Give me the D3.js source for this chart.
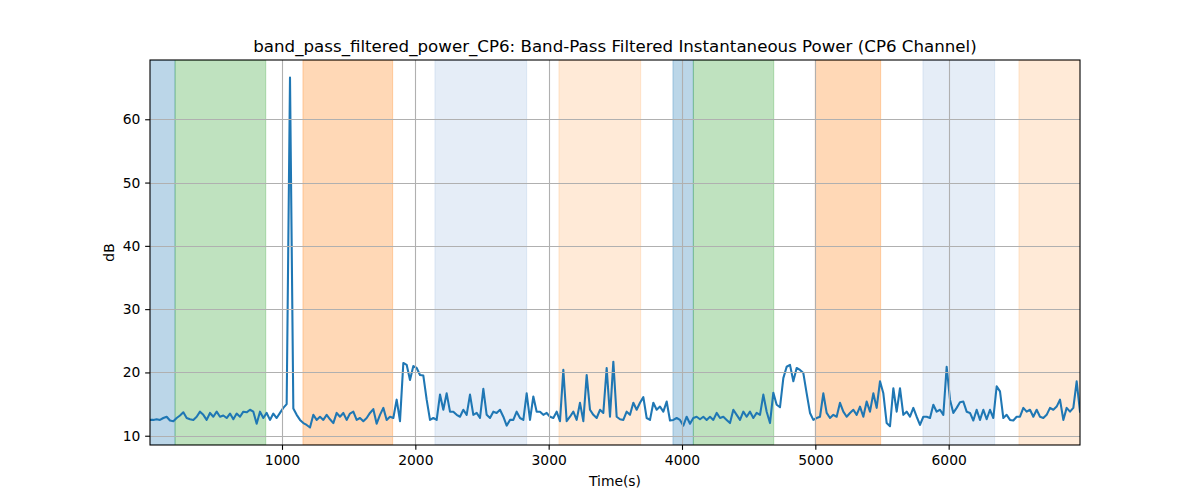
<!DOCTYPE html>
<html>
<head>
<meta charset="utf-8">
<script src="https://cdn.jsdelivr.net/npm/d3@7"></script>
<style>
  html, body { margin: 0; padding: 0; background: #fff; }
  text { font-family: "DejaVu Sans", sans-serif; }
</style>
</head>
<body>
<svg id="chart" width="1200" height="500"></svg>
<script>
const titleText = "band_pass_filtered_power_CP6: Band-Pass Filtered Instantaneous Power (CP6 Channel)";
const xLabel = "Time(s)";
const yLabel = "dB";

const times = [
  10,35,60,85,110,135,160,185,210,235,
  260,285,310,335,360,385,410,435,460,485,
  510,535,560,585,610,635,660,685,710,735,
  760,785,810,835,860,885,910,935,960,985,
  1010,1035,1060,1085,1110,1135,1160,1185,1210,1235,
  1260,1285,1310,1335,1360,1385,1410,1435,1460,1485,
  1510,1535,1560,1585,1610,1635,1660,1685,1710,1735,
  1760,1785,1810,1835,1860,1885,1910,1935,1960,1985,
  2010,2035,2060,2085,2110,2135,2160,2185,2210,2235,
  2260,2285,2310,2335,2360,2385,2410,2435,2460,2485,
  2510,2535,2560,2585,2610,2635,2660,2685,2710,2735,
  2760,2785,2810,2835,2860,2885,2910,2935,2960,2985,
  3010,3035,3060,3085,3110,3135,3160,3185,3210,3235,
  3260,3285,3310,3335,3360,3385,3410,3435,3460,3485,
  3510,3535,3560,3585,3610,3635,3660,3685,3710,3735,
  3760,3785,3810,3835,3860,3885,3910,3935,3960,3985,
  4010,4035,4060,4085,4110,4135,4160,4185,4210,4235,
  4260,4285,4310,4335,4360,4385,4410,4435,4460,4485,
  4510,4535,4560,4585,4610,4635,4660,4685,4710,4735,
  4760,4785,4810,4835,4860,4885,4910,4935,4960,4985,
  5010,5035,5060,5085,5110,5135,5160,5185,5210,5235,
  5260,5285,5310,5335,5360,5385,5410,5435,5460,5485,
  5510,5535,5560,5585,5610,5635,5660,5685,5710,5735,
  5760,5785,5810,5835,5860,5885,5910,5935,5960,5985,
  6010,6035,6060,6085,6110,6135,6160,6185,6210,6235,
  6260,6285,6310,6335,6360,6385,6410,6435,6460,6485,
  6510,6535,6560,6585,6610,6635,6660,6685,6710,6735,
  6760,6785,6810,6835,6860,6885,6910,6935,6960,6985
];

const power = [
  12.5,12.5,12.6,12.5,12.8,13.0,12.4,12.3,12.8,13.2,
  13.7,12.8,12.6,12.5,13.0,13.8,13.3,12.5,13.6,13.0,
  13.8,13.0,13.2,12.8,13.5,12.6,13.5,13.0,13.8,13.7,
  14.1,13.8,11.9,13.8,12.8,13.6,12.5,13.5,12.8,13.6,
  14.4,15.0,66.6,14.3,13.3,12.5,12.0,11.7,11.3,13.3,
  12.5,13.0,12.5,13.3,12.6,12.0,13.6,13.0,13.6,12.5,
  13.5,13.8,12.5,12.8,12.3,12.8,13.6,14.2,11.9,13.3,
  14.4,12.5,13.0,12.8,15.7,12.3,21.5,21.2,18.8,21.0,
  20.7,19.6,19.5,15.7,12.5,12.8,12.5,16.5,14.1,16.7,
  13.8,13.8,13.3,13.0,14.1,13.3,16.5,13.3,13.6,12.8,
  17.4,13.3,12.8,13.8,13.6,14.1,13.0,11.6,12.5,12.5,
  13.8,12.8,12.5,16.7,12.5,16.2,13.8,13.8,13.3,13.6,
  13.0,12.8,13.8,12.3,20.4,12.3,13.0,13.8,12.5,15.2,
  12.3,19.6,14.1,13.3,12.8,14.1,13.6,20.7,13.0,21.7,
  13.0,12.6,12.5,13.8,13.3,15.2,14.1,15.2,16.1,12.8,
  12.5,15.2,14.1,14.6,13.8,15.4,12.4,12.5,12.8,12.5,
  11.6,13.0,11.9,12.8,13.0,12.6,13.0,12.5,13.0,12.5,
  13.6,12.8,13.0,12.5,12.0,14.1,13.3,12.5,13.8,13.0,
  13.8,12.8,13.6,13.3,16.5,13.8,12.0,16.8,14.9,14.5,
  19.1,20.9,21.2,18.6,20.7,20.4,19.9,16.7,13.6,12.5,
  12.8,13.0,16.7,13.6,12.8,13.3,13.0,15.2,13.8,13.0,
  13.6,14.1,13.3,14.6,13.0,15.4,13.8,16.7,14.4,18.6,
  16.7,12.0,11.5,17.5,13.8,17.5,13.3,13.8,13.0,14.4,
  13.0,11.7,13.0,13.0,12.8,14.9,13.8,14.1,13.3,20.9,
  15.7,13.6,14.4,15.3,15.4,13.8,13.6,12.4,14.1,12.5,
  14.1,12.6,14.1,12.8,17.8,17.0,12.8,13.3,12.5,12.4,
  13.0,13.0,14.4,13.8,14.1,13.0,14.1,13.0,12.8,13.3,
  14.4,14.1,14.6,15.7,12.5,14.4,13.8,14.4,18.6,13.8
];

// shaded intervals
const spanStart = [0, 198, 1157, 2147, 3077, 3932, 4085, 5000, 5807, 6527];
const spanEnd   = [198, 878, 1830, 2835, 3690, 4085, 4688, 5490, 6345, 7000];
const spanKind  = ["blue", "green", "orange", "lightblue", "lightorange", "blue", "green", "orange", "lightblue", "lightorange"];

const xTicks = [1000, 2000, 3000, 4000, 5000, 6000];
const yTicks = [10, 20, 30, 40, 50, 60];

const spanFill = {
  blue: ["#1f77b4", 0.3],
  green: ["#2ca02c", 0.3],
  orange: ["#ff7f0e", 0.3],
  lightblue: ["#7ea3d6", 0.2],
  lightorange: ["#ff9f4a", 0.22]
};

const W = 1200, H = 500;
const L = 150, R = 1080, T = 60, B = 445;
const tickFont = "13.89px";

const svg = d3.select("#chart");

const x = d3.scaleLinear().domain(d3.extent(times)).range([L, R]);
const [ymin, ymax] = d3.extent(power);
const pad = (ymax - ymin) * 0.05;
const y = d3.scaleLinear().domain([ymin - pad, ymax + pad]).range([B, T]);

svg.append("defs").append("clipPath").attr("id", "clip")
  .append("rect").attr("x", L).attr("y", T).attr("width", R - L).attr("height", B - T);

const plot = svg.append("g").attr("clip-path", "url(#clip)");

// spans
plot.selectAll("rect.span")
  .data(spanStart.map((s, i) => ({ s, e: spanEnd[i], k: spanKind[i] })))
  .join("rect")
  .attr("class", "span")
  .attr("x", d => x(d.s))
  .attr("y", T)
  .attr("width", d => x(d.e) - x(d.s))
  .attr("height", B - T)
  .attr("fill", d => spanFill[d.k][0])
  .attr("fill-opacity", d => spanFill[d.k][1])
  .attr("stroke", d => spanFill[d.k][0])
  .attr("stroke-opacity", d => spanFill[d.k][1])
  .attr("stroke-width", 1);

// grid
const grid = svg.append("g");
grid.selectAll("line.gx").data(xTicks).join("line")
  .attr("x1", d => Math.round(x(d)) + 0.5).attr("x2", d => Math.round(x(d)) + 0.5)
  .attr("y1", T).attr("y2", B)
  .attr("stroke", "#b0b0b0").attr("stroke-width", 1.1);
grid.selectAll("line.gy").data(yTicks).join("line")
  .attr("y1", d => Math.round(y(d)) + 0.5).attr("y2", d => Math.round(y(d)) + 0.5)
  .attr("x1", L).attr("x2", R)
  .attr("stroke", "#b0b0b0").attr("stroke-width", 1.1);

// line
const line = d3.line().x((d, i) => x(times[i])).y(d => y(d));
plot.append("path")
  .datum(power)
  .attr("d", line)
  .attr("fill", "none")
  .attr("stroke", "#1f77b4")
  .attr("stroke-width", 2.08)
  .attr("stroke-linejoin", "round")
  .attr("stroke-linecap", "square");

// axes
const xAxis = d3.axisBottom(x).tickValues(xTicks).tickFormat(d3.format("d")).tickSizeOuter(0).tickSize(4.86).tickPadding(4.86);
const yAxis = d3.axisLeft(y).tickValues(yTicks).tickFormat(d3.format("d")).tickSizeOuter(0).tickSize(4.86).tickPadding(4.86);

const gx = svg.append("g").attr("transform", `translate(0,${B})`).call(xAxis);
const gy = svg.append("g").attr("transform", `translate(${L},0)`).call(yAxis);
[gx, gy].forEach(g => {
  g.select(".domain").remove();
  g.selectAll(".tick line").attr("stroke", "#000").attr("stroke-width", 1.1);
  g.selectAll(".tick text").attr("fill", "#000").style("font-size", tickFont).style("font-family", "DejaVu Sans, sans-serif");
});

// spines
svg.append("rect")
  .attr("x", L).attr("y", T).attr("width", R - L).attr("height", B - T)
  .attr("fill", "none").attr("stroke", "#000").attr("stroke-width", 1.1);

// title & labels
svg.append("text")
  .attr("x", (L + R) / 2).attr("y", 52)
  .attr("text-anchor", "middle")
  .style("font-size", "16.67px")
  .attr("fill", "#000")
  .text(titleText);

svg.append("text")
  .attr("x", (L + R) / 2).attr("y", 486)
  .attr("text-anchor", "middle")
  .style("font-size", tickFont)
  .attr("fill", "#000")
  .text(xLabel);

svg.append("text")
  .attr("transform", `translate(114,${(T + B) / 2}) rotate(-90)`)
  .attr("text-anchor", "middle")
  .style("font-size", tickFont)
  .attr("fill", "#000")
  .text(yLabel);
</script>
</body>
</html>
